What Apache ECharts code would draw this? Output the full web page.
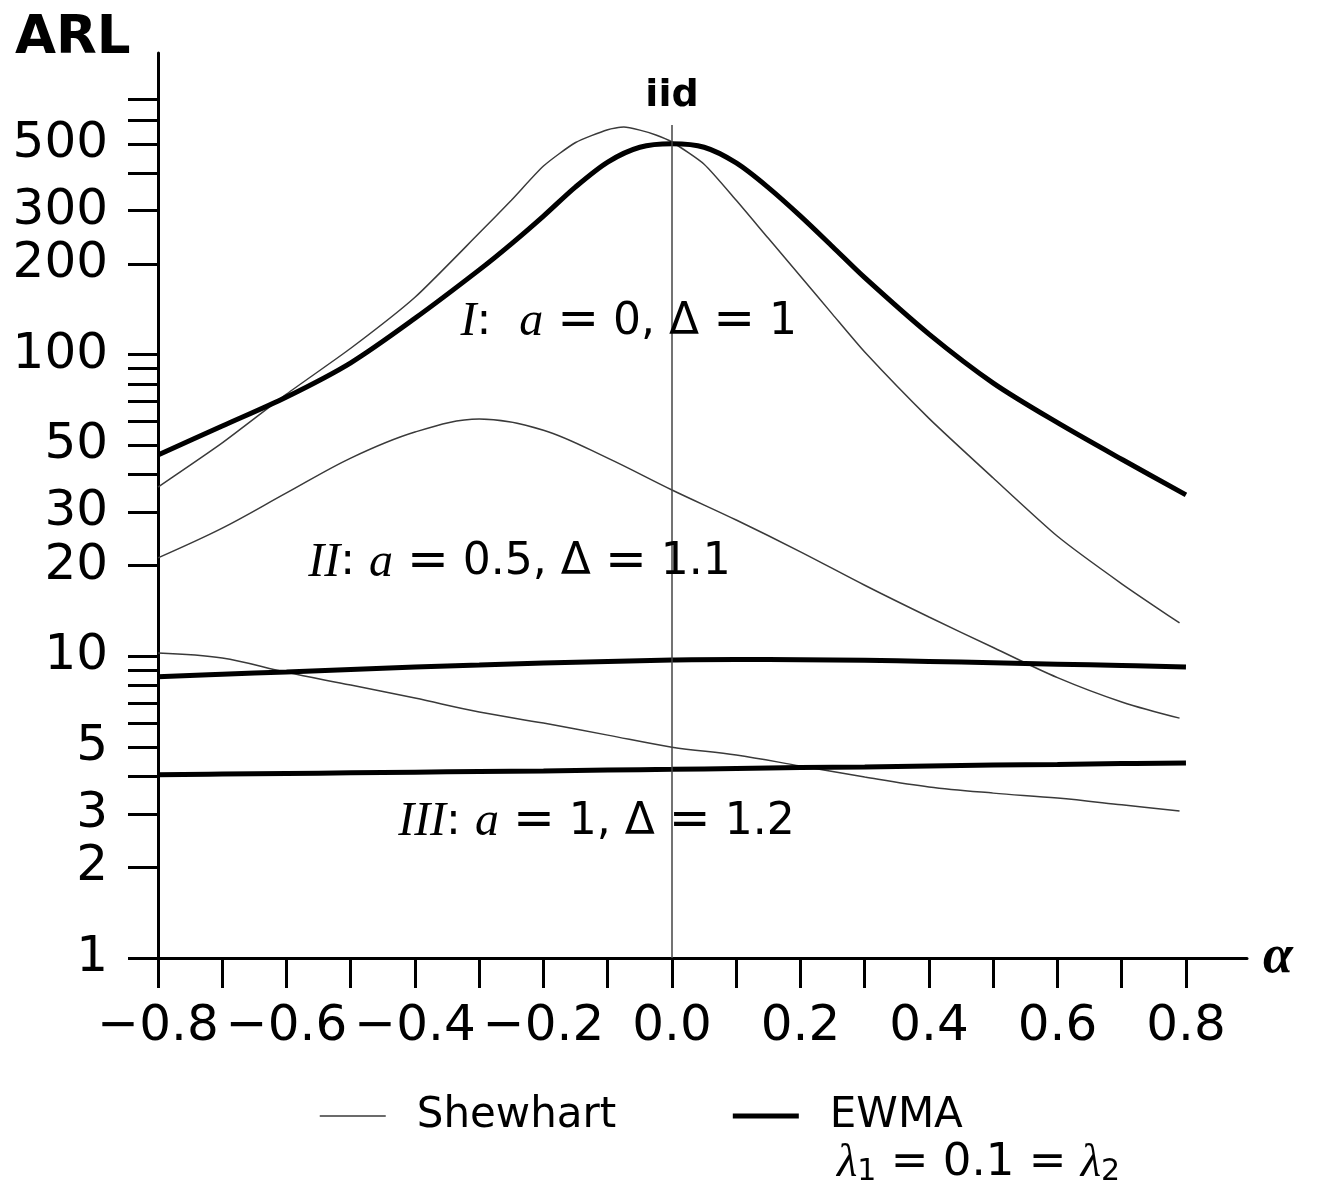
<!DOCTYPE html>
<html><head><meta charset="utf-8">
<script src="https://cdn.jsdelivr.net/npm/echarts@6/dist/echarts.min.js"></script>
<style>html,body{margin:0;padding:0;background:#fff}#c{width:1319px;height:1190px}</style>
</head><body><div id="c"></div>
<script>
// ---- data ----
const alphaShewI = [-0.8,-0.7,-0.6,-0.5,-0.4,-0.3,-0.25,-0.2,-0.15,-0.1,-0.075,-0.05,-0.025,0,0.05,0.1,0.15,0.2,0.25,0.3,0.4,0.5,0.6,0.7,0.79];
const arlShewI   = [36.4,51,74,105,155,253,325,422,505,557,568,555,535,507,428,325,243,182,136,102,61.5,39,25,17.4,12.9];
const alphaEwmaI = [-0.8,-0.7,-0.6,-0.5,-0.4,-0.3,-0.25,-0.2,-0.15,-0.1,-0.05,0,0.05,0.1,0.15,0.2,0.25,0.3,0.4,0.5,0.6,0.7,0.8];
const arlEwmaI   = [46.5,58,72.4,94,132,191,233,288,360,435,487,500,487,432,358,288,228,180,117,80.5,59.5,45,34.3];
const alphaShew  = [-0.8,-0.7,-0.6,-0.5,-0.4,-0.3,-0.2,-0.1,0,0.1,0.2,0.3,0.4,0.5,0.6,0.7,0.79];
const arlShewII  = [21.2,26.6,34.8,45.4,55.4,61.2,56.2,45.4,35.6,28.3,22.2,17.2,13.5,10.7,8.5,7.06,6.24];
const arlShewIII = [10.25,9.87,8.85,8.03,7.27,6.54,6.01,5.48,5.0,4.71,4.33,3.98,3.69,3.52,3.39,3.22,3.07];
const alphaEwma  = [-0.8,-0.7,-0.6,-0.5,-0.4,-0.3,-0.2,-0.1,0,0.1,0.2,0.3,0.4,0.5,0.6,0.7,0.8];
const arlEwmaII  = [8.55,8.72,8.88,9.05,9.22,9.36,9.5,9.62,9.72,9.76,9.75,9.7,9.62,9.52,9.42,9.32,9.22];
const arlEwmaIII = [4.05,4.07,4.09,4.11,4.13,4.15,4.17,4.2,4.22,4.25,4.28,4.3,4.33,4.36,4.38,4.41,4.43];

const xTickValues  = [-0.8,-0.7,-0.6,-0.5,-0.4,-0.3,-0.2,-0.1,0,0.1,0.2,0.3,0.4,0.5,0.6,0.7,0.8];
const xLabelValues = [-0.8,-0.6,-0.4,-0.2,0,0.2,0.4,0.6,0.8];
const yTickValues  = [1,2,3,4,5,6,7,8,9,10,20,30,40,50,60,70,80,90,100,200,300,400,500,600,700];
const yLabelValues = [1,2,3,5,10,20,30,50,100,200,300,500];
const iidTop = 577;
const annotations = [
  {name:'I',   x:-0.33,  y:128,  text:'{it|I}{s|:  }{it|a}{s| }{eq|=}{s| 0, Δ }{eq|=}{s| 1}'},
  {name:'II',  x:-0.567, y:20.4, text:'{it|II}{s|: }{it|a}{s| }{eq|=}{s| 0.5, Δ }{eq|=}{s| 1.1}'},
  {name:'III', x:-0.427, y:2.82, text:'{it|III}{s|: }{it|a}{s| }{eq|=}{s| 1, Δ }{eq|=}{s| 1.2}'}
];
const X_AXIS_END = 0.895;

const zip = (a, b) => a.map((v, i) => [v, b[i]]);
const SANS = 'DejaVu Sans';
const thin = {color:'#3a3a3a', width:1.5};
const thick = {color:'#000', width:5};

const chart = echarts.init(document.getElementById('c'), null, {renderer:'canvas'});
const rich = {
  it:{fontFamily:'Liberation Serif', fontStyle:'italic', fontSize:48, color:'#000'},
  s:{fontFamily:SANS, fontSize:44, color:'#000'},
  eq:{fontFamily:SANS, fontSize:50, color:'#000'}
};
const mk = (name, a, v, style, sm, extra) => Object.assign({
  type:'line', name, data: zip(a, v), symbol:'none', showSymbol:false,
  smooth:sm, lineStyle: style, itemStyle:{color: style.color}, animation:false, silent:true
}, extra || {});

chart.setOption({
  animation:false,
  backgroundColor:'#fff',
  title:[
    {text:'ARL', left:10, top:8, textStyle:{fontFamily:SANS, fontWeight:'bold', fontSize:53, color:'#000'}},
    {text:'{l|λ}{sub|1}{s| = 0.1 = }{l|λ}{sub|2}', left:832, top:1135,
     textStyle:{fontWeight:'normal', rich:{
       l:{fontFamily:'Liberation Serif', fontStyle:'italic', fontWeight:'normal', fontSize:47, color:'#000'},
       sub:{fontFamily:SANS, fontWeight:'normal', fontSize:30, color:'#000', verticalAlign:'bottom', padding:[14,0,0,0]},
       s:{fontFamily:SANS, fontWeight:'normal', fontSize:45, color:'#000'}
     }}}
  ],
  legend:{
    data:[
      {name:'Shewhart', lineStyle:{width:1.5, color:'#3a3a3a'}},
      {name:'EWMA', lineStyle:{width:5, color:'#000'}}
    ],
    left:314, top:1090, itemWidth:66, itemHeight:14, itemGap:114,
    itemStyle:{opacity:0},
    textStyle:{fontFamily:SANS, fontSize:42, color:'#000', padding:[0,0,0,26]}
  },
  grid:{left:158, right:72, top:53, bottom:232, containLabel:false, outerBoundsMode:'none'},
  xAxis:{
    type:'value', min:-0.8, max:X_AXIS_END,
    axisLine:{show:true, onZero:false, lineStyle:{color:'#000', width:3}},
    axisTick:{show:true, inside:false, length:30, customValues:xTickValues, lineStyle:{color:'#000', width:3}},
    axisLabel:{customValues:xLabelValues, margin:44, fontFamily:SANS, fontSize:50, color:'#000',
      formatter: v => (Math.abs(v) < 1e-9 ? '0.0' : v.toFixed(1).replace('-', '\u2212'))},
    splitLine:{show:false},
    name:'α', nameLocation:'end', nameGap:16,
    nameTextStyle:{fontFamily:'Liberation Serif', fontStyle:'italic', fontWeight:'bold', fontSize:54, color:'#000'}
  },
  yAxis:{
    type:'log', logBase:10, min:1, max:1000,
    axisLine:{show:true, onZero:false, lineStyle:{color:'#000', width:3}},
    axisTick:{show:true, inside:false, length:30, customValues:yTickValues, lineStyle:{color:'#000', width:3}},
    axisLabel:{customValues:yLabelValues, margin:50, fontFamily:SANS, fontSize:50, color:'#000',
      formatter: v => String(Math.round(v))},
    splitLine:{show:false}, minorTick:{show:false}
  },
  series:[
    mk('Shewhart', alphaShewI, arlShewI, thin, 0.2),
    mk('Shewhart', alphaShew, arlShewII, thin, 0.35),
    mk('Shewhart', alphaShew, arlShewIII, thin, 0.35),
    mk('EWMA', alphaEwmaI, arlEwmaI, thick, 0.3, {
      markLine:{
        silent:true, symbol:'none', animation:false,
        lineStyle:{color:'#444', width:1.5, type:'solid'},
        label:{show:true, position:'end', formatter:'iid', fontFamily:SANS, fontWeight:'bold', fontSize:38, color:'#000', distance:10},
        data:[[{coord:[0, 1]}, {coord:[0, iidTop]}]]
      },
      markPoint:{
        silent:true, animation:false, symbol:'circle', symbolSize:1, itemStyle:{color:'rgba(0,0,0,0)'},
        label:{show:true, position:'right', distance:0, rich},
        data: annotations.map(a => ({name:a.name, coord:[a.x, a.y], label:{formatter:a.text}}))
      }
    }),
    mk('EWMA', alphaEwma, arlEwmaII, thick, 0.45),
    mk('EWMA', alphaEwma, arlEwmaIII, thick, 0.45)
  ]
});
</script></body></html>
